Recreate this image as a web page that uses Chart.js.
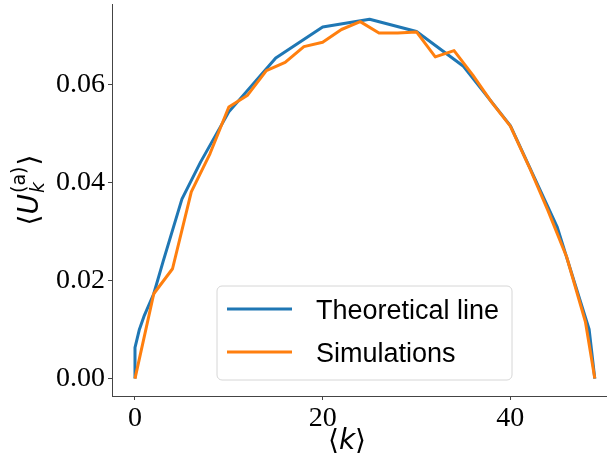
<!DOCTYPE html>
<html>
<head>
<meta charset="utf-8">
<script src="https://cdn.jsdelivr.net/npm/chart.js@4"></script>
<style>
  body { margin: 0; background: #fff; }
</style>
</head>
<body>
<canvas id="chart" width="607" height="461"></canvas>
<script>
// values
const theoryK = [0, 0, 0.45, 1, 2, 3, 5, 7, 10, 15, 20, 25, 30, 35, 40, 45, 48.4, 49];
const theoryU = [0, 0.0063, 0.0099, 0.0129, 0.0173, 0.0239, 0.0366, 0.0442, 0.0544, 0.0654, 0.0717, 0.0733, 0.0708, 0.0637, 0.0516, 0.0309, 0.0100, 0];

const simK = [0, 2, 4, 6, 8, 10, 12, 14, 16, 18, 20, 22, 24, 26, 28, 30, 32, 34, 36, 38, 40, 42, 44, 46, 48, 49];
const simU = [0, 0.0173, 0.0224, 0.0381, 0.0459, 0.0554, 0.0578, 0.0628, 0.0645, 0.0677, 0.0686, 0.0712, 0.0728, 0.0705, 0.0705, 0.0707, 0.0656, 0.0669, 0.0619, 0.0564, 0.0515, 0.0432, 0.0343, 0.0248, 0.0116, 0];

const seriesNames = ["Theoretical line", "Simulations"];
const seriesColors = ["#1f77b4", "#ff7f0e"];

const xTicks = [0, 20, 40];
const yTicks = [0, 0.02, 0.04, 0.06];

const axisColor = "#444";
const tickFont = { family: "'Liberation Serif', serif", size: 28 };

const toPoints = (xs, ys) => xs.map((x, i) => ({ x: x, y: ys[i] }));

// axis titles + legend drawn on top
const decor = {
  id: "decor",
  afterDraw(chart) {
    const ctx = chart.ctx;
    ctx.save();
    ctx.fillStyle = "#000";
    ctx.textBaseline = "alphabetic";

    // y title  <U_k^(a)>
    ctx.save();
    ctx.translate(0, 190);
    ctx.rotate(-Math.PI / 2);
    const big = "28px 'DejaVu Sans'";
    const bigIt = "italic 28px 'DejaVu Sans'";
    const small = "19px 'DejaVu Sans'";
    const smallIt = "italic 19px 'DejaVu Sans'";
    ctx.font = big; const wL = ctx.measureText("\u27E8").width;
    ctx.font = bigIt; const wU = ctx.measureText("U").width;
    ctx.font = smallIt; const wk = ctx.measureText("k").width;
    ctx.font = small; const wa = ctx.measureText("(a)").width;
    const wScript = Math.max(wk, wa);
    const total = wL + wU + wScript + 2 + wL;
    let u = -total / 2;
    const base = 38;
    ctx.font = big; ctx.fillText("\u27E8", u, base); u += wL;
    ctx.font = bigIt; ctx.fillText("U", u, base); u += wU + 1;
    ctx.font = smallIt; ctx.fillText("k", u, base + 6);
    ctx.font = small; ctx.fillText("(a)", u, base - 13); u += wScript + 1;
    ctx.font = big; ctx.fillText("\u27E9", u, base);
    ctx.restore();

    // x title  <k>
    ctx.font = "28px 'DejaVu Sans'";
    const wb = ctx.measureText("\u27E8").width;
    ctx.font = "italic 28px 'DejaVu Sans'";
    const wkx = ctx.measureText("k").width;
    let x = 347 - (wb * 2 + wkx) / 2;
    const yb = 449;
    ctx.font = "28px 'DejaVu Sans'"; ctx.fillText("\u27E8", x, yb); x += wb;
    ctx.font = "italic 28px 'DejaVu Sans'"; ctx.fillText("k", x, yb); x += wkx;
    ctx.font = "28px 'DejaVu Sans'"; ctx.fillText("\u27E9", x, yb);

    // legend
    const bx = 217, by = 286, bw = 295, bh = 94;
    ctx.beginPath();
    ctx.roundRect(bx, by, bw, bh, 5);
    ctx.fillStyle = "rgba(255,255,255,0.8)";
    ctx.fill();
    ctx.strokeStyle = "#d6d6d6";
    ctx.lineWidth = 1;
    ctx.stroke();
    ctx.font = "27px 'Liberation Sans', sans-serif";
    chart.data.datasets.forEach((ds, i) => {
      const rowY = 309 + i * 43;
      ctx.strokeStyle = ds.borderColor;
      ctx.lineWidth = 3;
      ctx.beginPath();
      ctx.moveTo(227, rowY);
      ctx.lineTo(292, rowY);
      ctx.stroke();
      ctx.fillStyle = "#000";
      ctx.fillText(ds.label, 316, rowY + 10);
    });
    ctx.restore();
  }
};

new Chart(document.getElementById("chart"), {
  type: "line",
  data: {
    datasets: [
      {
        label: seriesNames[0],
        data: toPoints(theoryK, theoryU),
        borderColor: seriesColors[0],
        borderWidth: 3,
        order: 1,
      },
      {
        label: seriesNames[1],
        data: toPoints(simK, simU),
        borderColor: seriesColors[1],
        borderWidth: 3,
        order: 0,
      },
    ],
  },
  options: {
    responsive: false,
    animation: false,
    layout: { padding: { top: 4, right: 0, left: 0, bottom: 0 } },
    elements: {
      point: { radius: 0 },
      line: { tension: 0, borderJoinStyle: "round", borderCapStyle: "butt" },
    },
    plugins: {
      legend: { display: false },
      tooltip: { enabled: false },
    },
    scales: {
      x: {
        type: "linear",
        min: -2.45,
        max: 50.3,
        afterBuildTicks: (s) => { s.ticks = xTicks.map((v) => ({ value: v })); },
        afterFit: (s) => { s.height = 65; s.paddingLeft = 0; s.paddingRight = 0; },
        ticks: { font: tickFont, color: "#000", padding: 2, maxRotation: 0 },
        grid: { drawOnChartArea: false, tickLength: 4, color: axisColor },
        border: { display: true, color: axisColor, width: 1 },
      },
      y: {
        type: "linear",
        min: -0.00355,
        max: 0.0764,
        afterBuildTicks: (s) => { s.ticks = yTicks.map((v) => ({ value: v })); },
        afterFit: (s) => { s.width = 112; s.paddingTop = 0; s.paddingBottom = 0; },
        ticks: {
          font: tickFont,
          color: "#000",
          padding: 3,
          callback: (v) => v.toFixed(2),
        },
        grid: { drawOnChartArea: false, tickLength: 4, color: axisColor },
        border: { display: true, color: axisColor, width: 1 },
      },
    },
  },
  plugins: [decor],
});
</script>
</body>
</html>
